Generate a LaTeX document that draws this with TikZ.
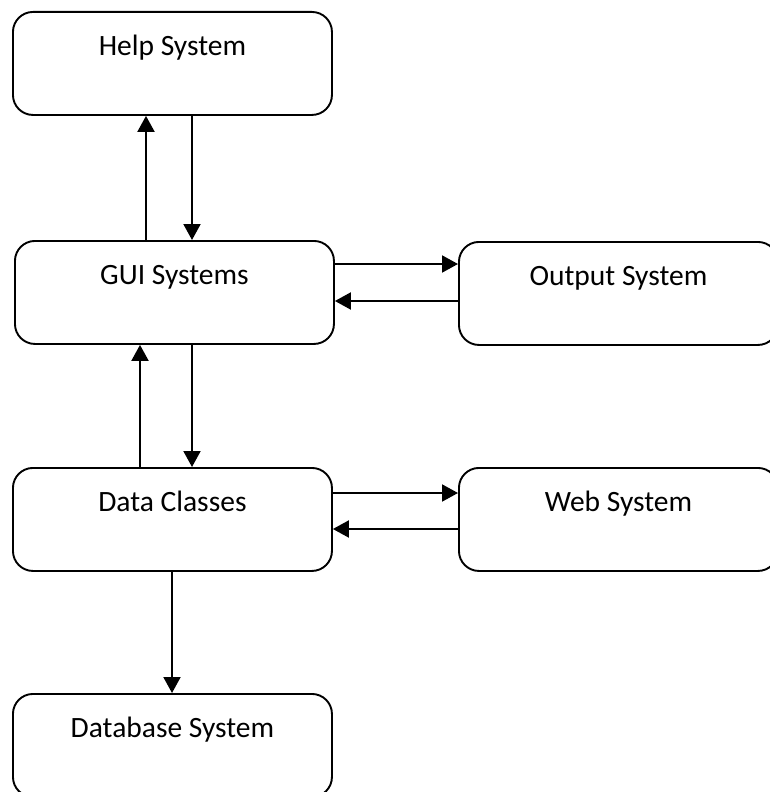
\documentclass[tikz,border=0pt]{standalone}
\usepackage{fontspec}
\setmainfont{Carlito}
\usetikzlibrary{arrows.meta}

\begin{document}
\begin{tikzpicture}[x=1pt,y=-1pt,
  sysbox/.style={draw, line width=1.9pt, rounded corners=20pt, rectangle,
    minimum width=319pt, inner xsep=0pt, inner ysep=0pt,
    text height=44pt, text depth=59pt, anchor=north west,
    font=\fontsize{29.5}{34}\selectfont},
  flow/.style={line width=2pt, -{Triangle[length=16pt,width=17pt]}}]
\useasboundingbox (0,0) rectangle (770,792);
\begin{scope}
\clip (0,0) rectangle (770,792);

% boxes
\node[sysbox] (help) at (12,11)  {Help System};
\node[sysbox] (gui)  at (14,240) {GUI Systems};
\node[sysbox] (out)  at (458,241) {Output System};
\node[sysbox] (data) at (12,467) {Data Classes};
\node[sysbox] (web)  at (458,467) {Web System};
\node[sysbox] (db)   at (12,693) {Database System};

% guide coordinates for the connectors
\coordinate (c1) at (146,0);
\coordinate (c2) at (192,0);
\coordinate (c3) at (140,0);
\coordinate (c4) at (172,0);
\coordinate (r1) at (0,264);
\coordinate (r2) at (0,301);
\coordinate (r3) at (0,493);
\coordinate (r4) at (0,529);

% help <-> gui
\draw[flow] (gui.north -| c1) -- (help.south -| c1);
\draw[flow] (help.south -| c2) -- (gui.north -| c2);

% gui <-> output
\draw[flow] (gui.east |- r1) -- (out.west |- r1);
\draw[flow] (out.west |- r2) -- (gui.east |- r2);

% gui <-> data
\draw[flow] (data.north -| c3) -- (gui.south -| c3);
\draw[flow] (gui.south -| c2) -- (data.north -| c2);

% data <-> web
\draw[flow] (data.east |- r3) -- (web.west |- r3);
\draw[flow] (web.west |- r4) -- (data.east |- r4);

% data -> database
\draw[flow] (data.south -| c4) -- (db.north -| c4);
\end{scope}
\end{tikzpicture}
\end{document}
